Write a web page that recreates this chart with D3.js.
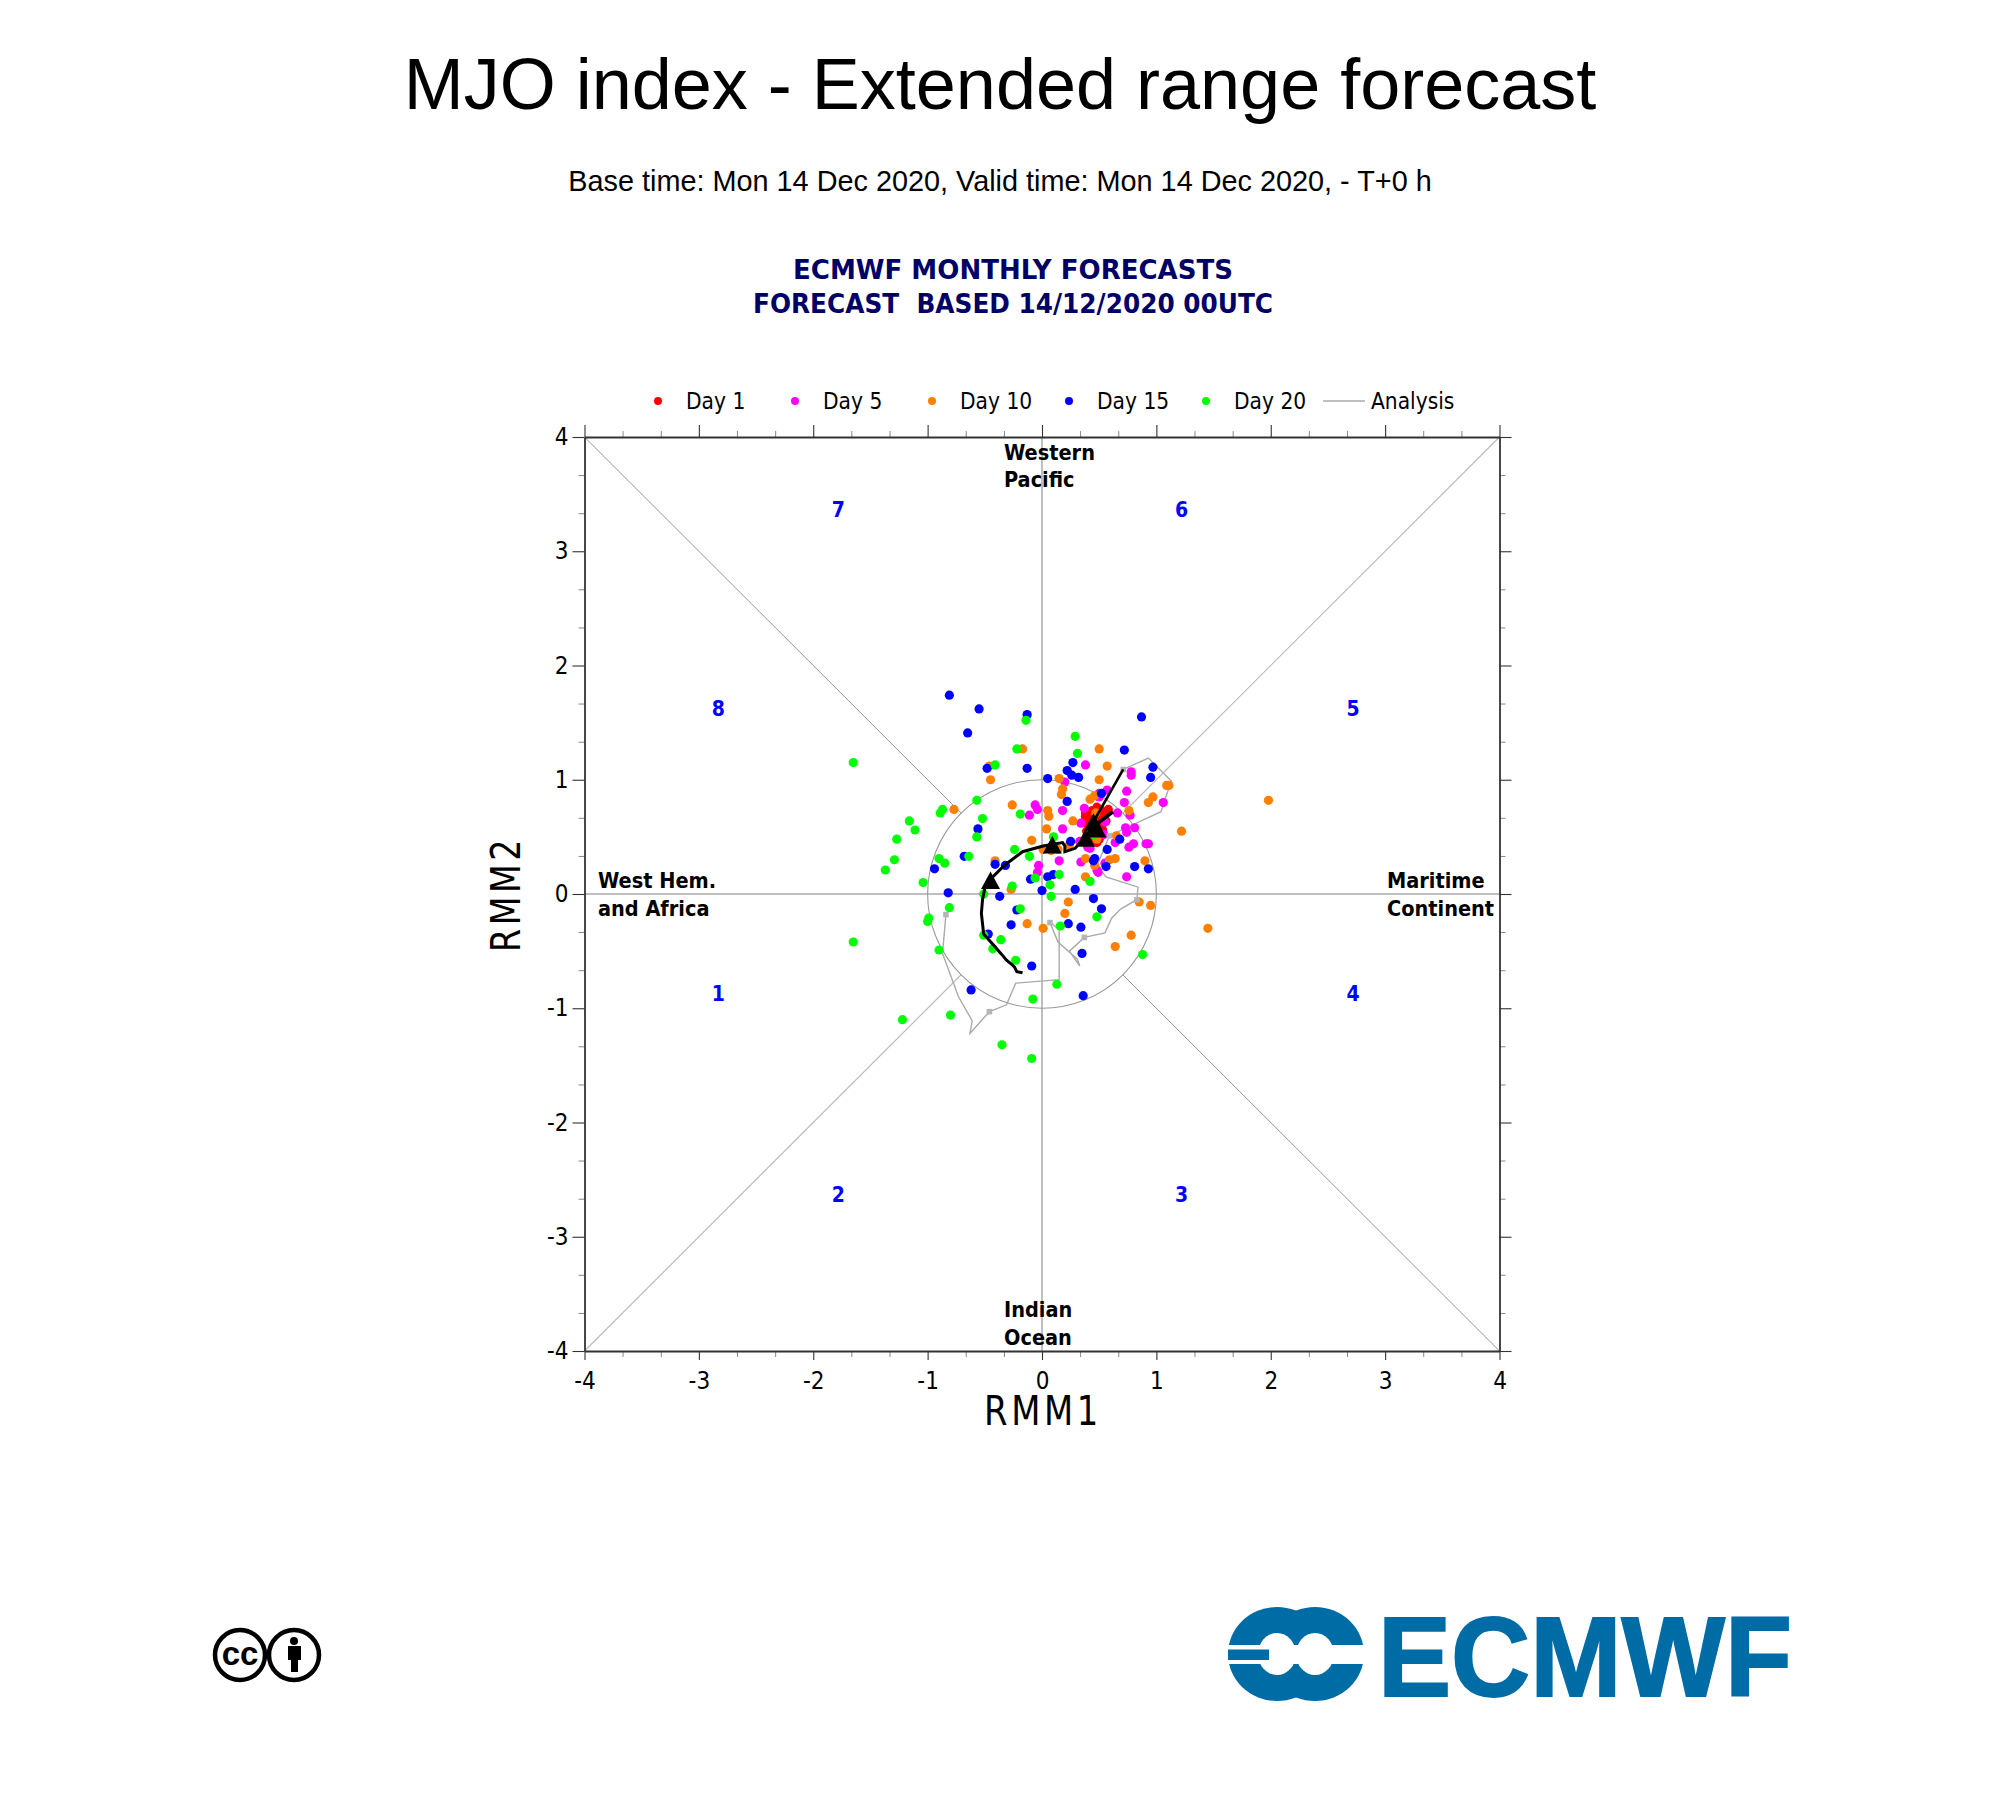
<!DOCTYPE html>
<html lang="en">

<head>
  <meta charset="utf-8">
  <title>MJO index - Extended range forecast</title>
  <script src="https://d3js.org/d3.v7.min.js"></script>
  <style>
    body { margin: 0; background: #fff; }
    text { fill: #000; }
    .cond { font-family: "DejaVu Sans"; font-stretch: condensed; }
    .axis text { font-family: "DejaVu Sans"; font-stretch: condensed; font-size: 24px; fill: #000; }
  </style>
</head>

<body>
  <div id="chart"></div>

  <script type="text/javascript">
    "use strict"

    // members per forecast day, [RMM1, RMM2]
    var day1 = [[.48,.76],[.44,.73],[.51,.74],[.58,.74],[.38,.68],[.42,.69],[.52,.68],[.56,.64],[.38,.65],[.40,.61],
      [.45,.65],[.49,.62],[.52,.59],[.43,.56],[.42,.52],[.48,.45],[.45,.49],[.49,.50],[.53,.56],[.39,.55],
      [.46,.69],[.55,.71],[.38,.71],[.50,.48]];
    var day5 = [[.38,1.13],[.78,1.07],[.78,1.04],[.20,.98],[.57,.91],[.74,.90],[.50,.88],[.72,.80],[1.06,.80],[-.06,.78],
      [-.04,.74],[.18,.73],[.37,.75],[-.11,.69],[.77,.69],[.66,.71],[.34,.62],[.18,.57],[.73,.58],[.81,.58],
      [.74,.54],[.54,.52],[.64,.45],[.80,.44],[.76,.41],[.91,.44],[.93,.44],[.33,.46],[.40,.41],[.15,.29],
      [.34,.28],[-.03,.25],[-.04,.19],[.48,.21],[.49,.19],[.74,.15],[.55,.27],[.55,.63],[.50,.85],[.42,.40]];
    var day10 = [[-.17,1.27],[-.46,1.12],[.50,1.27],[.57,1.12],[.50,1.00],[-.45,1.00],[.15,1.01],[.18,.92],[.17,.87],[1.11,.95],
      [1.09,.95],[.42,.83],[.46,.86],[.97,.85],[.93,.80],[1.98,.82],[-.26,.78],[-.77,.74],[.05,.73],[.06,.68],
      [.76,.73],[.27,.64],[.04,.57],[1.22,.55],[-.09,.47],[.01,.39],[.08,.38],[.14,.39],[.65,.51],[.38,.31],
      [.59,.30],[.64,.31],[.90,.29],[-.41,.29],[.46,.25],[.38,.15],[-.27,.04],[.23,-.07],[.85,-.07],[.95,-.10],
      [.20,-.17],[-.13,-.26],[.01,-.30],[1.45,-.30],[.78,-.36],[.64,-.46],[.48,.48],[.47,.71],[.24,.43]];
    var day15 = [[-.81,1.74],[-.55,1.62],[-.13,1.57],[.87,1.55],[-.65,1.41],[.72,1.26],[.27,1.15],[.22,1.08],[.26,1.04],[.32,1.02],
      [-.48,1.10],[-.13,1.10],[.05,1.01],[.97,1.11],[.95,1.02],[.52,.88],[.22,.81],[-.56,.57],[.25,.46],[.68,.48],
      [.57,.39],[-.68,.33],[-.41,.26],[-.32,.25],[-.94,.22],[.46,.31],[.45,.29],[.56,.24],[.81,.24],[.93,.22],
      [-.10,.13],[.05,.15],[.10,.17],[-.82,.01],[-.37,-.02],[0,.03],[.29,.04],[.45,-.04],[.52,-.13],[-.22,-.14],
      [-.27,-.27],[.23,-.26],[.34,-.29],[-.47,-.35],[.35,-.52],[-.09,-.63],[-.62,-.84],[.36,-.89]];
    var day20 = [[-1.65,1.15],[-.14,1.52],[.29,1.38],[.31,1.23],[-.22,1.27],[-.41,1.13],[-.57,.82],[-.87,.74],[-.89,.71],[-.19,.70],
      [-1.16,.64],[-.52,.66],[-1.11,.56],[-1.27,.48],[-.57,.50],[.10,.50],[-.24,.39],[-1.29,.30],[-.64,.33],[-.11,.33],
      [-.90,.31],[-.85,.27],[-1.37,.21],[-1.04,.10],[.15,.17],[-.06,.14],[.42,.11],[-.26,.07],[.07,.08],[-.51,0],
      [.08,-.02],[-.81,-.12],[-.99,-.21],[-1.00,-.24],[-.19,-.13],[.48,-.20],[.16,-.28],[-1.65,-.42],[-.51,-.36],[-.36,-.40],
      [-.43,-.48],[-.90,-.49],[-.23,-.58],[.88,-.53],[.13,-.79],[-.08,-.92],[-.80,-1.06],[-1.22,-1.10],[-.35,-1.32],[-.09,-1.44],[.45,.52]];

    var diasNomes = ["Day 1", "Day 5", "Day 10", "Day 15", "Day 20"];
    var diasCores = ["#ff0000", "#ff00ff", "#ff7f00", "#0000ff", "#00ff00"];
    var dias = [day1, day5, day10, day15, day20];

    var analise = [[.71,1.09],[.93,1.19],[1.13,.99],[1.04,.72],[.59,.51],[.46,.20],[.52,.20],[.56,.15],[.84,.06],[.83,-.05],
      [.69,-.13],[.61,-.21],[.55,-.34],[.37,-.38],[.24,-.50],[.33,-.63],[.31,-.57],[.14,-.42],[.07,-.25],[.15,-.31],
      [.15,-.75],[-.23,-.78],[-.31,-.97],[-.46,-1.03],[-.63,-1.22],[-.61,-1.11],[-.73,-.90],[-.87,-.52],[-.84,-.18]];
    var analiseQuadrados = [[.71,1.09],[.59,.51],[.83,-.05],[.37,-.38],[.07,-.25],[-.46,-1.03],[-.84,-.18]];

    var media = [[-.17,-.69],[-.22,-.68],[-.24,-.64],[-.26,-.62],[-.31,-.58],[-.36,-.52],[-.43,-.44],[-.51,-.35],[-.53,-.17],[-.52,-.05],
      [-.50,.05],[-.45,.13],[-.33,.25],[-.17,.37],[.01,.42],[.18,.45],[.20,.42],[.20,.37],[.29,.40],[.37,.49],[.45,.59]];
    var mediaB = [[.71,1.09],[.46,.65]];
    var mediaC = [[.62,.72],[.49,.62]];
    var triangulos = [[-.45,.11],[.09,.42],[.38,.48],[.45,.62],[.48,.56]];

    var ticksMaiores = [-4, -3, -2, -1, 0, 1, 2, 3, 4];
    var ticksMenores = [-3.667,-3.333,-2.667,-2.333,-1.667,-1.333,-.667,-.333,.333,.667,1.333,1.667,2.333,2.667,3.333,3.667];
    var fases = [["7",-1.78,3.37],["6",1.22,3.37],["8",-2.83,1.63],["5",2.72,1.63],["1",-2.83,-.87],["4",2.72,-.87],["2",-1.78,-2.63],["3",1.22,-2.63]];

    var svg = d3.select("#chart").append("svg")
        .attr("width", 2000)
        .attr("height", 1800)
        .style("display", "block");

    function texto(t, x, y, tam) {
      return svg.append("text").attr("x", x).attr("y", y).style("font-size", tam + "px").text(t);
    }

    // titulos
    texto("MJO index - Extended range forecast", 1000, 109, 72)
        .attr("text-anchor", "middle").style("font-family", "Liberation Sans");
    texto("Base time: Mon 14 Dec 2020, Valid time: Mon 14 Dec 2020, - T+0 h", 1000, 191, 28.84)
        .attr("text-anchor", "middle").style("font-family", "Liberation Sans");
    texto("ECMWF MONTHLY FORECASTS", 793, 279, 27).attr("class", "cond")
        .style("font-weight", "bold").style("fill", "#000066")
        .attr("textLength", 440).attr("lengthAdjust", "spacingAndGlyphs");
    texto("FORECAST  BASED 14/12/2020 00UTC", 753, 313, 27).attr("class", "cond")
        .style("font-weight", "bold").style("fill", "#000066").style("white-space", "pre")
        .attr("textLength", 520).attr("lengthAdjust", "spacingAndGlyphs");

    var x = d3.scaleLinear().domain([-4, 4]).range([584.5, 1499.5]);
    var y = d3.scaleLinear().domain([-4, 4]).range([1351, 437]);
    var linha = d3.line().x(d => x(d[0])).y(d => y(d[1]));
    var plano = svg.append("g");

    // zero lines, diagonals and unit circle
    plano.append("path").attr("d", linha([[-4, 0], [4, 0]])).attr("stroke", "#aaa").attr("stroke-width", 1.5);
    plano.append("path").attr("d", linha([[0, -4], [0, 4]])).attr("stroke", "#aaa").attr("stroke-width", 1.5);
    plano.append("path").attr("d", linha([[-4, 4], [-.707, .707]])).attr("stroke", "#777").attr("stroke-width", .8);
    plano.append("path").attr("d", linha([[4, -4], [.707, -.707]])).attr("stroke", "#777").attr("stroke-width", .8);
    plano.append("path").attr("d", linha([[4, 4], [.707, .707]])).attr("stroke", "#bbb").attr("stroke-width", 1.2);
    plano.append("path").attr("d", linha([[-4, -4], [-.707, -.707]])).attr("stroke", "#bbb").attr("stroke-width", 1.2);
    plano.append("ellipse").attr("cx", x(0)).attr("cy", y(0))
        .attr("rx", x(1) - x(0)).attr("ry", y(0) - y(1))
        .attr("fill", "none").attr("stroke", "#999").attr("stroke-width", 1.1);

    // axes, four sides
    function eixo(ger, dx, dy, maior, menor, rotulos) {
      var gm = svg.append("g").attr("class", "axis").attr("transform", "translate(" + dx + "," + dy + ")")
          .call(ger.tickValues(ticksMenores).tickSize(menor).tickFormat(""));
      gm.selectAll("line").attr("stroke", "#888");
      gm.select(".domain").remove();
      gm.selectAll("text").remove();
      var g = svg.append("g").attr("class", "axis").attr("transform", "translate(" + dx + "," + dy + ")")
          .call(ger.tickValues(ticksMaiores).tickSize(maior).tickSizeOuter(0).tickFormat(rotulos ? d3.format("d") : ""));
      g.select(".domain").attr("stroke", "#333").attr("stroke-width", 1.8);
      g.selectAll("line").attr("stroke", "#333").attr("stroke-width", 1.1);
      if (!rotulos) g.selectAll("text").remove();
      return g;
    }
    var gx = eixo(d3.axisBottom(x), 0, 1351, 9, 6, true);
    gx.selectAll("text").attr("y", 14).attr("dy", "1em").text(d => String(d));
    var gy = eixo(d3.axisLeft(y), 584.5, 0, 12, 6, true);
    gy.selectAll("text").attr("x", -16).text(d => String(d));
    eixo(d3.axisTop(x), 0, 437, 12, 6, false);
    eixo(d3.axisRight(y), 1499.5, 0, 12, 6, false);

    texto("RMM1", 1043, 1425, 41).attr("class", "cond").attr("text-anchor", "middle").style("letter-spacing", "4px")
        .attr("textLength", 118).attr("lengthAdjust", "spacingAndGlyphs");
    texto("RMM2", 0, 0, 41).attr("class", "cond").attr("text-anchor", "middle").style("letter-spacing", "4px")
        .attr("textLength", 116).attr("lengthAdjust", "spacingAndGlyphs")
        .attr("transform", "translate(520,894) rotate(-90)");

    // region names
    var regioes = [["Western", 1004, 460], ["Pacific", 1004, 487], ["Indian", 1004, 1317], ["Ocean", 1004, 1345],
      ["West Hem.", 598, 888], ["and Africa", 598, 916], ["Maritime", 1387, 888], ["Continent", 1387, 916]];
    regioes.forEach(function(r) {
      texto(r[0], r[1], r[2], 21.5).attr("class", "cond").style("font-weight", "bold");
    });
    fases.forEach(function(f) {
      texto(f[0], x(f[1]), y(f[2]) + 8, 21).attr("class", "cond").attr("text-anchor", "middle")
          .style("font-weight", "bold").style("fill", "#0000ff");
    });

    // legend
    diasNomes.forEach(function(n, i) {
      svg.append("circle").attr("cx", 658 + i * 137).attr("cy", 401).attr("r", 4).attr("fill", diasCores[i]);
      texto(n, 686 + i * 137, 409, 22.5).attr("class", "cond");
    });
    svg.append("line").attr("x1", 1323).attr("x2", 1365).attr("y1", 401).attr("y2", 401)
        .attr("stroke", "#aaa").attr("stroke-width", 1.3);
    texto("Analysis", 1371, 409, 22.5).attr("class", "cond");

    // analysis track, members, then ensemble mean
    svg.append("path").attr("d", linha(analise)).attr("fill", "none").attr("stroke", "#aaa").attr("stroke-width", 1.4);

    dias.forEach(function(dia, i) {
      svg.append("g").selectAll("circle").data(dia).enter().append("circle")
          .attr("cx", d => x(d[0])).attr("cy", d => y(d[1])).attr("r", 4.6)
          .attr("fill", diasCores[i]);
    });

    svg.append("g").selectAll("rect").data(analiseQuadrados).enter().append("rect")
        .attr("x", d => x(d[0]) - 2.8).attr("y", d => y(d[1]) - 2.8)
        .attr("width", 5.6).attr("height", 5.6).attr("fill", "#b5b5b5");

    svg.append("path").attr("d", linha(media)).attr("fill", "none").attr("stroke", "#000").attr("stroke-width", 3);
    svg.append("path").attr("d", linha(mediaB)).attr("fill", "none").attr("stroke", "#000").attr("stroke-width", 2.6);
    svg.append("path").attr("d", linha(mediaC)).attr("fill", "none").attr("stroke", "#000").attr("stroke-width", 3.6);
    svg.append("g").selectAll("path").data(triangulos).enter().append("path")
        .attr("d", "M0,-10 L9.5,7.5 L-9.5,7.5 Z")
        .attr("transform", d => "translate(" + x(d[0]) + "," + y(d[1]) + ")")
        .attr("fill", "#000");

    // CC BY badge
    var cc = svg.append("g");
    cc.append("circle").attr("cx", 240).attr("cy", 1655).attr("r", 25).attr("fill", "#fff").attr("stroke", "#000").attr("stroke-width", 4.5);
    cc.append("circle").attr("cx", 294).attr("cy", 1655).attr("r", 25).attr("fill", "#fff").attr("stroke", "#000").attr("stroke-width", 4.5);
    texto("cc", 240, 1665, 33).attr("text-anchor", "middle").style("font-family", "Liberation Sans").style("font-weight", "bold");
    cc.append("circle").attr("cx", 294).attr("cy", 1641).attr("r", 4).attr("fill", "#000");
    cc.append("path").attr("d", "M288,1646 H301 V1660 H298 V1672 H291 V1660 H288 Z").attr("fill", "#000");

    // ECMWF logo
    var azul = "#006ca6";
    var logo = svg.append("g");
    logo.append("ellipse").attr("cx", 1277).attr("cy", 1654).attr("rx", 49).attr("ry", 47).attr("fill", azul);
    logo.append("ellipse").attr("cx", 1315).attr("cy", 1654).attr("rx", 49).attr("ry", 47).attr("fill", azul);
    logo.append("ellipse").attr("cx", 1277).attr("cy", 1654).attr("rx", 19).attr("ry", 21).attr("fill", "#fff");
    logo.append("ellipse").attr("cx", 1315).attr("cy", 1654).attr("rx", 19).attr("ry", 21).attr("fill", "#fff");
    logo.append("rect").attr("x", 1220).attr("y", 1645).attr("width", 150).attr("height", 19).attr("fill", "#fff");
    logo.append("rect").attr("x", 1228).attr("y", 1649.5).attr("width", 41).attr("height", 10.5).attr("fill", azul);
    texto("ECMWF", 1378, 1696, 113).style("font-family", "Liberation Sans").style("font-weight", "bold")
        .style("fill", azul).style("stroke", azul).style("stroke-width", 2)
        .attr("textLength", 414).attr("lengthAdjust", "spacingAndGlyphs");
  </script>
</body>

</html>
